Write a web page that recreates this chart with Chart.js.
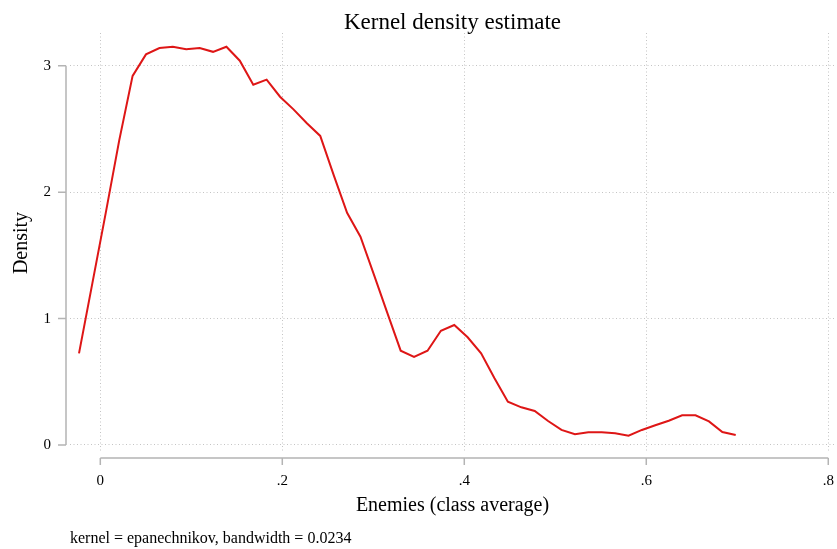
<!DOCTYPE html>
<html>
<head>
<meta charset="utf-8">
<title>Kernel density estimate</title>
<script src="https://cdn.jsdelivr.net/npm/chart.js@4.4.1/dist/chart.umd.min.js"></script>
<style>
    html, body { margin: 0; padding: 0; background: #ffffff; }
    #wrap { width: 837px; height: 549px; }
</style>
</head>
<body>
<div id="wrap"><canvas id="kdensChart" width="837" height="549"></canvas></div>
<script>
// evaluation points (class average of enemies)
const gridX = [
    -0.0234, -0.0087, 0.0061, 0.0208, 0.0355, 0.0502, 0.0650, 0.0797, 0.0944, 0.1092,
    0.1239, 0.1386, 0.1533, 0.1681, 0.1828, 0.1975, 0.2123, 0.2270, 0.2417, 0.2565,
    0.2712, 0.2859, 0.3006, 0.3154, 0.3301, 0.3448, 0.3596, 0.3743, 0.3890, 0.4037,
    0.4185, 0.4332, 0.4479, 0.4627, 0.4774, 0.4921, 0.5068, 0.5216, 0.5363, 0.5510,
    0.5658, 0.5805, 0.5952, 0.6099, 0.6247, 0.6394, 0.6541, 0.6689, 0.6836, 0.6983
];
// estimated density at each point
const density = [
    0.725, 1.28, 1.84, 2.41, 2.92, 3.09, 3.14, 3.15, 3.13, 3.14,
    3.11, 3.15, 3.04, 2.85, 2.89, 2.755, 2.655, 2.545, 2.445, 2.135,
    1.837, 1.648, 1.35, 1.045, 0.746, 0.696, 0.746, 0.904, 0.949, 0.852,
    0.725, 0.528, 0.342, 0.298, 0.269, 0.19, 0.119, 0.085, 0.10, 0.10,
    0.093, 0.074, 0.119, 0.156, 0.192, 0.235, 0.235, 0.187, 0.103, 0.079
];
const xTicks = [0, 0.2, 0.4, 0.6, 0.8];
const yTicks = [0, 1, 2, 3];

const serif = "'Liberation Serif', 'DejaVu Serif', serif";
const axisGray = '#b4b4b4';
const gridGray = '#c4c4c4';

// strip the leading zero like ".2"
function fmtTick(v) {
    if (v === 0) return '0';
    return String(+v.toFixed(2)).replace(/^0\./, '.');
}

// axis lines only span the tick range, with short outward ticks
const stataAxes = {
    id: 'stataAxes',
    afterDraw(chart) {
        const ctx = chart.ctx;
        const area = chart.chartArea;
        const xs = chart.scales.x;
        const ys = chart.scales.y;
        ctx.save();
        ctx.strokeStyle = axisGray;
        ctx.lineWidth = 1.5;

        const ax = area.left - 4;
        ctx.beginPath();
        ctx.moveTo(ax, ys.getPixelForValue(yTicks[yTicks.length - 1]));
        ctx.lineTo(ax, ys.getPixelForValue(yTicks[0]));
        yTicks.forEach(t => {
            const py = ys.getPixelForValue(t);
            ctx.moveTo(ax - 8, py);
            ctx.lineTo(ax, py);
        });
        ctx.stroke();

        const ay = area.bottom + 5;
        ctx.beginPath();
        ctx.moveTo(xs.getPixelForValue(xTicks[0]), ay);
        ctx.lineTo(xs.getPixelForValue(xTicks[xTicks.length - 1]), ay);
        xTicks.forEach(t => {
            const px = xs.getPixelForValue(t);
            ctx.moveTo(px, ay);
            ctx.lineTo(px, ay + 7);
        });
        ctx.stroke();

        // title centred over the plot region, note at the bottom left
        ctx.fillStyle = '#000';
        ctx.font = '23px ' + serif;
        ctx.textAlign = 'center';
        ctx.textBaseline = 'alphabetic';
        ctx.fillText('Kernel density estimate', (area.left + area.right) / 2, 29);

        ctx.font = '16px ' + serif;
        ctx.textAlign = 'left';
        ctx.textBaseline = 'middle';
        ctx.fillText('kernel = epanechnikov, bandwidth = 0.0234', 70, 539);
        ctx.restore();
    }
};

const ctx = document.getElementById('kdensChart').getContext('2d');
new Chart(ctx, {
    type: 'line',
    data: {
        datasets: [{
            label: 'Density',
            data: gridX.map((x, i) => ({ x: x, y: density[i] })),
            borderColor: 'rgb(222, 22, 22)',
            borderWidth: 2,
            fill: false,
            tension: 0,
            pointRadius: 0
        }]
    },
    options: {
        responsive: false,
        animation: false,
        layout: { padding: { top: 33, right: 2, bottom: 0, left: 0 } },
        plugins: {
            legend: { display: false },
            title: { display: false },
            tooltip: { enabled: false }
        },
        scales: {
            x: {
                type: 'linear',
                min: -0.0333,
                max: 0.8074,
                afterBuildTicks: axis => { axis.ticks = xTicks.map(v => ({ value: v })); },
                afterFit: axis => {
                    axis.height = 96;
                    axis.paddingLeft = 0;
                    axis.paddingRight = 0;
                },
                border: { display: false, dash: [1, 2.5] },
                grid: {
                    color: gridGray,
                    lineWidth: 1,
                    drawTicks: false
                },
                ticks: {
                    padding: 19,
                    color: '#000',
                    font: { family: serif, size: 15 },
                    callback: v => fmtTick(v)
                },
                title: {
                    display: true,
                    text: 'Enemies (class average)',
                    color: '#000',
                    font: { family: serif, size: 20 },
                    padding: { top: 0, bottom: 31 }
                }
            },
            y: {
                min: -0.0633,
                max: 3.259,
                afterBuildTicks: axis => { axis.ticks = yTicks.map(v => ({ value: v })); },
                afterFit: axis => {
                    axis.width = 70;
                    axis.paddingTop = 0;
                    axis.paddingBottom = 0;
                },
                border: { display: false, dash: [1, 2.5] },
                grid: {
                    color: gridGray,
                    lineWidth: 1,
                    drawTicks: false
                },
                ticks: {
                    padding: 19,
                    color: '#000',
                    font: { family: serif, size: 15 },
                    callback: v => fmtTick(v)
                },
                title: {
                    display: true,
                    text: 'Density',
                    color: '#000',
                    font: { family: serif, size: 20 },
                    padding: { top: 10, bottom: 0 }
                }
            }
        }
    },
    plugins: [stataAxes]
});
</script>
</body>
</html>
